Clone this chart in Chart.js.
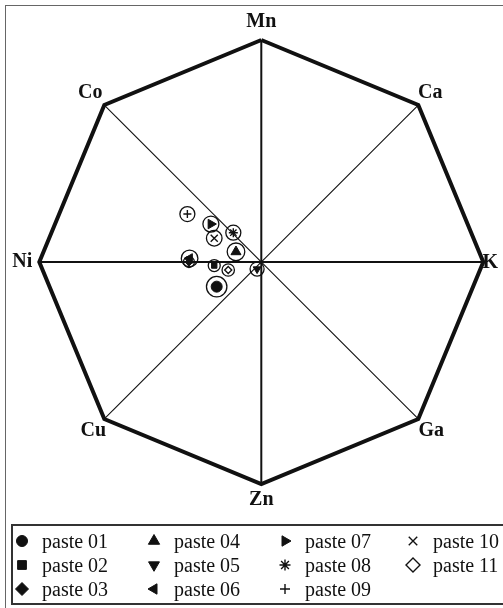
<!DOCTYPE html>
<html>
<head>
<meta charset="utf-8">
<title>Pastes - star plot</title>
<script src="https://cdn.jsdelivr.net/npm/chart.js@4.4.1/dist/chart.umd.min.js"></script>
<style>
  html, body { margin: 0; padding: 0; background: #fff; }
  #wrap { position: relative; width: 503px; height: 608px; overflow: hidden; }
  #frame { position: absolute; left: 5px; top: 5px; width: 530px; height: 640px; border: 1px solid #666; }
  #chart { position: absolute; left: 0; top: 0; }
  #legend {
    position: absolute; left: 11px; top: 524px; width: 530px; height: 77px;
    border: 2px solid #333;
    font-family: "Liberation Serif", "Times New Roman", serif; font-size: 20px; color: #111;
  }
  .item { position: absolute; height: 24px; line-height: 24px; white-space: nowrap; }
  .item canvas { position: absolute; left: 0; top: 3px; }
  .item span { position: absolute; left: 29px; top: 0; }
</style>
</head>
<body>
<div id="wrap">
  <div id="frame"></div>
  <canvas id="chart" width="503" height="608"></canvas>
  <div id="legend"></div>
</div>
<script>
// axes of the star plot, clockwise from the top
const elements = ['Mn', 'Ca', 'K', 'Ga', 'Zn', 'Cu', 'Ni', 'Co'];

// samples and their position in the plot (unit = axis length)
const pastes = ['paste 01', 'paste 02', 'paste 03', 'paste 04', 'paste 05', 'paste 06',
                'paste 07', 'paste 08', 'paste 09', 'paste 10', 'paste 11'];
const pasteX = [-0.201, -0.212, -0.326, -0.114, -0.019, -0.323, -0.227, -0.126, -0.333, -0.212, -0.149];
const pasteY = [-0.111, -0.016,  0.000,  0.046, -0.032,  0.016,  0.171,  0.132,  0.216,  0.107, -0.036];

// marker look per paste (r = symbol in the plot, lr = symbol in the legend, ring = circle round it)
const markers = [
  { style: 'circle',   r: 5.5, lr: 5.5, ring: 10.2 },
  { style: 'rect',     r: 3.8, lr: 6.2, ring: 6 },
  { style: 'rectRot',  r: 4,   lr: 6.5, ring: 5.5 },
  { style: 'triangle', r: 5.8, lr: 6.5, ring: 8.8 },
  { style: 'triangle', r: 4.5, lr: 6.3, ring: 7, rot: 180 },
  { style: 'triangle', r: 5.5, lr: 6,   ring: 8.3, rot: -90 },
  { style: 'triangle', r: 5.5, lr: 6,   ring: 8, rot: 90 },
  { style: 'star',     r: 4.5, lr: 5.5, ring: 7.5 },
  { style: 'cross',    r: 4,   lr: 5,   ring: 7.5 },
  { style: 'crossRot', r: 5,   lr: 6,   ring: 7.8 },
  { style: 'rectRot',  r: 3.5, lr: 7,   ring: 6.2, open: true }
];

// where each axis name sits relative to its vertex
const labelOffset = [[0, -18], [12, -12], [7, 1], [13, 12], [0, 16], [-11, 12], [-17, 0], [-14, -12]];

function vertex(i) {
  const a = Math.PI / 2 - i * Math.PI / 4;
  return { x: Math.cos(a), y: Math.sin(a) };
}

const outline = elements.map((e, i) => vertex(i));
outline.push(vertex(0));

const frameSets = [{
  label: 'outline', data: outline, showLine: true, borderColor: '#111', borderWidth: 4,
  pointRadius: 0, clip: false, order: 10, borderJoinStyle: 'miter'
}];
for (let i = 0; i < 4; i++) {
  frameSets.push({
    label: 'spoke ' + i, data: [vertex(i), vertex(i + 4)], showLine: true,
    borderColor: '#111', borderWidth: i % 2 === 0 ? 2 : 1.1,
    pointRadius: 0, clip: false, order: 9
  });
}

const pasteSets = pastes.map((name, i) => {
  const m = markers[i];
  return {
    label: name,
    data: [{ x: pasteX[i], y: pasteY[i] }],
    pointStyle: m.style,
    pointRadius: m.r,
    pointRotation: m.rot || 0,
    backgroundColor: m.open ? '#fff' : '#111',
    borderColor: '#111',
    borderWidth: (m.style === 'star' || m.style === 'cross' || m.style === 'crossRot' || m.open) ? 1.4 : 1,
    ring: m.ring,
    legendRadius: m.lr,
    order: 0
  };
});

// open circle around every paste marker
const ringPlugin = {
  id: 'rings',
  afterDatasetsDraw(chart) {
    const ctx = chart.ctx;
    ctx.save();
    ctx.strokeStyle = '#111';
    ctx.lineWidth = 1.3;
    chart.data.datasets.forEach((ds, i) => {
      if (!ds.ring) return;
      chart.getDatasetMeta(i).data.forEach(pt => {
        ctx.beginPath();
        ctx.arc(pt.x, pt.y, ds.ring, 0, Math.PI * 2);
        ctx.stroke();
      });
    });
    ctx.restore();
  }
};

// element names at the octagon corners
const axisNames = {
  id: 'axisNames',
  afterDraw(chart) {
    const ctx = chart.ctx, xs = chart.scales.x, ys = chart.scales.y;
    ctx.save();
    ctx.font = 'bold 20px "Liberation Serif", "Times New Roman", serif';
    ctx.fillStyle = '#111';
    ctx.textAlign = 'center';
    ctx.textBaseline = 'middle';
    elements.forEach((name, i) => {
      const v = vertex(i);
      ctx.fillText(name, xs.getPixelForValue(v.x) + labelOffset[i][0], ys.getPixelForValue(v.y) + labelOffset[i][1]);
    });
    ctx.restore();
  }
};

const chart = new Chart(document.getElementById('chart'), {
  type: 'scatter',
  data: { datasets: frameSets.concat(pasteSets) },
  options: {
    responsive: false,
    animation: false,
    layout: { padding: { left: 39.3, right: 19.7, top: 40, bottom: 124 } },
    scales: {
      x: { min: -1, max: 1, display: false },
      y: { min: -1, max: 1, display: false }
    },
    plugins: { legend: { display: false }, tooltip: { enabled: false } }
  },
  plugins: [ringPlugin, axisNames]
});

// legend: three rows, filled column by column
const colLeft = [0, 132, 263, 391];
const rowTop = [3, 27, 51];
const legendBox = document.getElementById('legend');
pasteSets.forEach((ds, i) => {
  const item = document.createElement('div');
  item.className = 'item';
  item.style.left = colLeft[Math.floor(i / 3)] + 'px';
  item.style.top = rowTop[i % 3] + 'px';
  const c = document.createElement('canvas');
  c.width = 18; c.height = 18;
  const g = c.getContext('2d');
  g.fillStyle = ds.backgroundColor;
  g.strokeStyle = ds.borderColor;
  g.lineWidth = ds.borderWidth;
  Chart.helpers.drawPoint(g, {
    pointStyle: ds.pointStyle, radius: ds.legendRadius,
    rotation: ds.pointRotation, borderWidth: ds.borderWidth
  }, 9, 9);
  const label = document.createElement('span');
  label.textContent = ds.label;
  item.appendChild(c);
  item.appendChild(label);
  legendBox.appendChild(item);
});
</script>
</body>
</html>
